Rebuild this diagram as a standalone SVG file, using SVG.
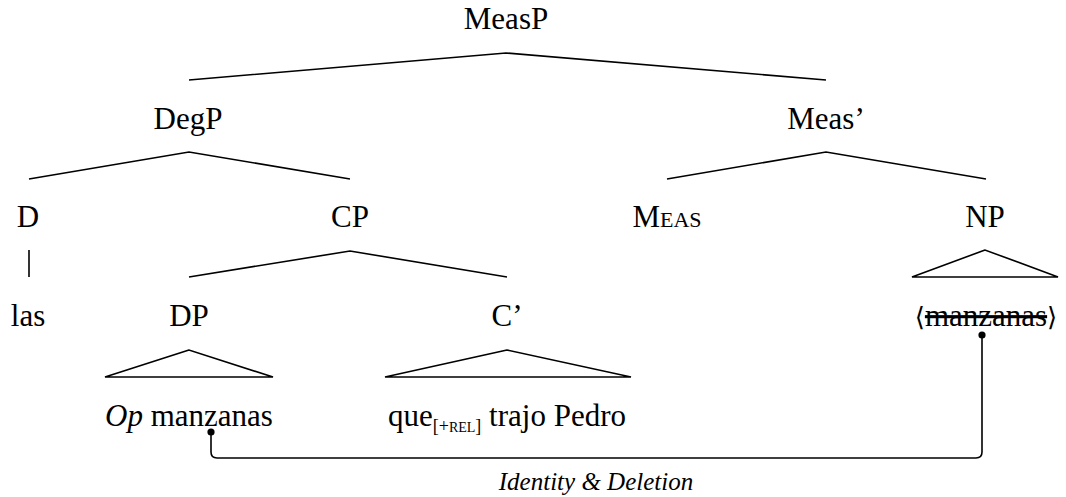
<svg xmlns="http://www.w3.org/2000/svg" width="1066" height="497" viewBox="0 0 1066 497">
<style>
text{font-family:'Liberation Serif','DejaVu Serif',serif;font-size:31px;fill:#000;text-anchor:middle}
.e{fill:none;stroke:#000;stroke-width:1.6}
.i{font-style:italic}
.dot{fill:#000}
</style>
<rect width="1066" height="497" fill="#fff"/>
<g id="edges">
<polyline class="e" points="189,80 506,53 826,80"/>
<polyline class="e" points="29,179 189,152 350,179"/>
<polyline class="e" points="667,179 826,152 986,179"/>
<line class="e" x1="29" y1="250" x2="29" y2="277"/>
<polyline class="e" points="189,277 350,251 507,277"/>
<polygon class="e" points="985,250 912,277 1058,277"/>
<polygon class="e" points="189,350 105,377 273,377"/>
<polygon class="e" points="507,350 385,377 631,377"/>
</g>
<g id="link">
<path class="e" d="M211,432 V452 Q211,458 217,458 H976 Q982,458 982,452 V335"/>
<circle class="dot" cx="211" cy="432" r="3.6"/>
<circle class="dot" cx="982" cy="335" r="3.6"/>
<text class="i" x="596" y="490" style="font-size:25px">Identity &amp; Deletion</text>
</g>
<g id="MeasP"><text x="506" y="29">MeasP</text></g>
<g id="DegP"><text x="188" y="129">DegP</text></g>
<g id="MeasBar"><text x="826" y="129">Meas’</text></g>
<g id="D"><text x="28" y="227">D</text></g>
<g id="CP"><text x="350" y="227">CP</text></g>
<g id="Meas"><text x="667" y="227">M<tspan style="font-size:22px">EAS</tspan></text></g>
<g id="NP"><text x="985" y="227">NP</text></g>
<g id="las"><text x="28" y="326">las</text></g>
<g id="DP"><text x="189" y="326">DP</text></g>
<g id="Cbar"><text x="507" y="326">C’</text></g>
<g id="manzanas2"><text x="986" y="326"><tspan style="font-family:'DejaVu Serif',serif;font-size:26px">⟨</tspan><tspan style="text-decoration:line-through">manzanas</tspan><tspan style="font-family:'DejaVu Serif',serif;font-size:26px">⟩</tspan></text></g>
<g id="OpManzanas"><text x="189" y="426"><tspan class="i">Op</tspan> manzanas</text></g>
<g id="que"><text x="507" y="426">que<tspan dy="6" style="font-size:18px">[+<tspan style="font-size:14px">REL</tspan>]</tspan><tspan dy="-6"> trajo Pedro</tspan></text></g>
</svg>
